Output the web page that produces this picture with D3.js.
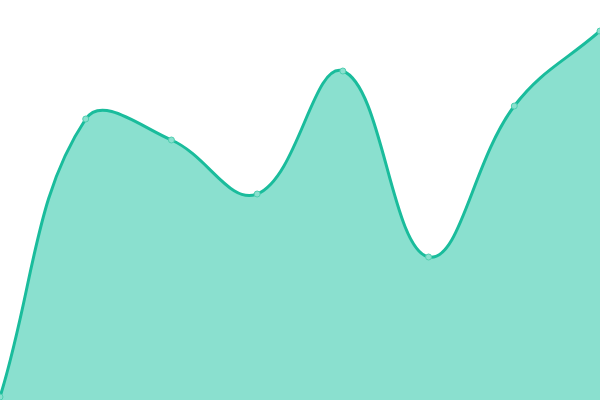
<!DOCTYPE html>
<html><head><meta charset="utf-8">
<script src="https://cdn.jsdelivr.net/npm/d3@7"></script>
<style>html,body{margin:0;padding:0;background:#fff;}svg{display:block;}</style>
</head><body>
<svg id="c" width="600" height="400"></svg>
<script>
const categories = [0, 1, 2, 3, 4, 5, 6, 7];
const values = [3, 281, 260, 206, 329, 143, 294, 369];

const W = 600, H = 400;
const svg = d3.select("#c");
const x = d3.scaleLinear().domain([0, categories.length - 1]).range([0, W]);
const y = d3.scaleLinear().domain([0, 400]).range([H, 0]);
const data = categories.map((c, i) => ({c, v: values[i]}));

// Spline with tension 0.4 (distance-weighted control points), capped to the plot area
function SplineCurve(context, tension) { this._context = context; this._t = tension; }
SplineCurve.prototype = {
  areaStart() { this._line = 0; },
  areaEnd() { this._line = NaN; },
  lineStart() { this._pts = []; },
  point(px, py) { this._pts.push([+px, +py]); },
  lineEnd() {
    const p = this._pts, n = p.length, ctx = this._context, t = this._t;
    const cap = (v, lo, hi) => Math.max(lo, Math.min(hi, v));
    if (n) {
      if (this._line) ctx.lineTo(p[0][0], p[0][1]); else ctx.moveTo(p[0][0], p[0][1]);
      const cps = p.map((cur, i) => {
        const prev = p[Math.max(0, i - 1)], next = p[Math.min(n - 1, i + 1)];
        const d01 = Math.hypot(cur[0] - prev[0], cur[1] - prev[1]);
        const d12 = Math.hypot(next[0] - cur[0], next[1] - cur[1]);
        let s01 = d01 / (d01 + d12), s12 = d12 / (d01 + d12);
        if (!isFinite(s01)) s01 = 0; if (!isFinite(s12)) s12 = 0;
        const fa = t * s01, fb = t * s12;
        return {
          prev: [cap(cur[0] - fa * (next[0] - prev[0]), 0, W), cap(cur[1] - fa * (next[1] - prev[1]), 0, H)],
          next: [cap(cur[0] + fb * (next[0] - prev[0]), 0, W), cap(cur[1] + fb * (next[1] - prev[1]), 0, H)]
        };
      });
      for (let i = 1; i < n; i++) {
        ctx.bezierCurveTo(cps[i-1].next[0], cps[i-1].next[1], cps[i].prev[0], cps[i].prev[1], p[i][0], p[i][1]);
      }
    }
    if (this._line || (this._line !== 0 && n === 1)) ctx.closePath();
    this._line = 1 - this._line;
  }
};
const curve = ctx => new SplineCurve(ctx, 0.4);

svg.append("path").datum(data)
  .attr("fill", "#8ae0cf")
  .attr("d", d3.area().x(d => x(d.c)).y0(H).y1(d => y(d.v)).curve(curve));
svg.append("path").datum(data)
  .attr("fill", "none").attr("stroke", "#1abc9c").attr("stroke-width", 3)
  .attr("d", d3.line().x(d => x(d.c)).y(d => y(d.v)).curve(curve));
svg.selectAll("circle").data(data).join("circle")
  .attr("cx", d => x(d.c)).attr("cy", d => y(d.v)).attr("r", 3)
  .attr("fill", "#8ae0cf").attr("stroke", "#4fcfb0").attr("stroke-width", 1);
</script>
</body></html>
